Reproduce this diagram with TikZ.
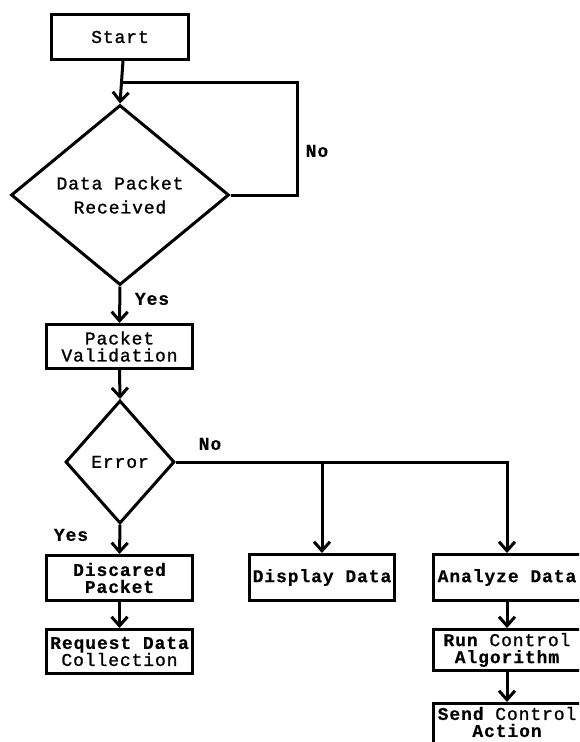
\documentclass[tikz,border=0pt]{standalone}
\usepackage{fontspec}
\newfontfamily\fc[LetterSpace=5,FakeBold=1.2,BoldFeatures={FakeBold=0.4}]{Liberation Mono}
\usetikzlibrary{shapes.geometric,arrows.meta}
\begin{document}
\begin{tikzpicture}[x=1pt,y=-1pt,
  txt/.style={font=\fc\fontsize{18}{17}\selectfont},
  box/.style={draw, line width=3pt, rectangle, inner sep=0pt, align=center, txt},
  dia/.style={draw, line width=3pt, diamond, inner sep=0pt, align=center, txt},
  arr/.style={line width=3pt, -{Straight Barb[length=9pt,width=16pt]}},
  conn/.style={line width=3pt, line join=miter},
  lbl/.style={inner sep=0pt, font=\fc\bfseries\fontsize{18}{17}\selectfont}]
\clip (0,0) rectangle (579,742);
\fill[white] (0,0) rectangle (579,742);

\node[box, minimum width=137pt, minimum height=45pt] (start) at (120,37) {Start};
\node[dia, minimum width=218pt, minimum height=180pt, font=\fc\fontsize{18}{24}\selectfont] (d1) at (120,195) {Data Packet\\Received};
\node[box, minimum width=146pt, minimum height=44pt] (pv) at (119.5,346.5) {Packet\\Validation};
\node[dia, minimum width=109pt, minimum height=123pt] (d2) at (120,462) {Error};
\node[box, minimum width=146pt, minimum height=45pt] (disc) at (119.5,578) {\bfseries Discared\\\bfseries Packet};
\node[box, minimum width=146pt, minimum height=44pt] (req) at (119.5,651.5) {\bfseries Request Data\\Collection};
\node[box, minimum width=145pt, minimum height=46pt] (disp) at (322,577.5) {\bfseries Display Data};
\node[box, minimum width=148pt, minimum height=46pt] (anal) at (507,577.5) {\bfseries Analyze Data};
\node[box, minimum width=148pt, minimum height=41pt] (run) at (507,650) {{\bfseries Run} Control\\\bfseries Algorithm};
\node[box, minimum width=148pt, minimum height=44pt] (send) at (507,725.5) {};
\node[txt, inner sep=0pt, align=center] (sendtxt) at (507,722) {{\bfseries Send} Control\\\bfseries Action};

\coordinate (j1) at (121.5,82);
\coordinate (lp1) at (297,195);
\coordinate (lp2) at (297,82);

\draw[arr] ([xshift=3pt]start.south) -- (d1.north);
\draw[conn] (d1.east) -- (lp1) -- (lp2) -- (j1);
\draw[arr] (d1.south) -- (pv.north);
\draw[arr] (pv.south) -- (d2.north);
\draw[arr] (d2.south) -- (disc.north);
\draw[arr] (disc.south) -- (req.north);
\draw[arr] (d2.east) -| (anal.north);
\draw[arr] (disp.north |- d2.east) -- (disp.north);
\draw[arr] (anal.south) -- (run.north);
\draw[arr] (run.south) -- (send.north);

\node[lbl] (no1) at (317,151) {No};
\node[lbl] (yes1) at (152,299) {Yes};
\node[lbl] (no2) at (210,444) {No};
\node[lbl] (yes2) at (71,535) {Yes};
\end{tikzpicture}
\end{document}
